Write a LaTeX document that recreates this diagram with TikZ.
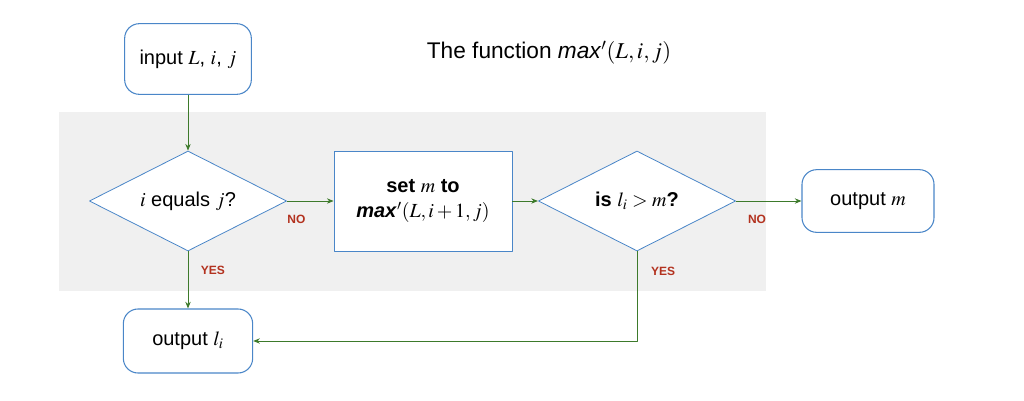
\documentclass[tikz,border=0pt]{standalone}
\usepackage{mathptmx}
\usepackage{fontspec}
\setmainfont{Liberation Sans}
\usetikzlibrary{shapes.geometric,arrows.meta}
\definecolor{boxblue}{HTML}{4A86C8}
\definecolor{flowgreen}{HTML}{3D7A2B}
\definecolor{answerred}{HTML}{B3321F}
\definecolor{panelgrey}{HTML}{F0F0F0}
\begin{document}
\begin{tikzpicture}[x=0.75pt,y=-0.75pt,line join=round,font=\fontsize{15}{19}\selectfont,>={Stealth[length=5pt,width=4pt]}]
	\tikzset{
		term/.style={draw=boxblue,line width=0.8pt,fill=white,rounded corners=11pt,align=center},
		test/.style={draw=boxblue,line width=0.6pt,fill=white,diamond,inner sep=0pt,minimum width=148pt,minimum height=75pt,aspect=2},
		proc/.style={draw=boxblue,line width=0.6pt,fill=white,minimum width=133.5pt,minimum height=75pt,align=center},
		flow/.style={draw=flowgreen,line width=0.6pt,->},
		answer/.style={text=answerred,font=\fontsize{9}{11}\selectfont\bfseries}
	}
	\useasboundingbox (0,0) rectangle (1024,400);
	\fill[panelgrey] (59,112) rectangle (766,291);
	% boxes
	\node[term,minimum width=95pt,minimum height=53pt] (input) at (188,59) {input $L$, $i$, $j$};
	\node[font=\fontsize{17}{20}\selectfont] (title) at (549,53) {The function \textit{max}$'(L,i,j)$};
	\node[test] (equals) at (188,201) {$i$ equals $j$?};
	\node[proc] (setm) at (423,201) {\textbf{set} $m$ \textbf{to}\\\textbf{\textit{max}}$'(L,i+1,j)$};
	\node[test] (bigger) at (637,201) {\textbf{is} $l_i>m$\textbf{?}};
	\node[term,minimum width=99pt,minimum height=47pt] (outm) at (868,201) {output $m$};
	\node[term,minimum width=97pt,minimum height=48pt] (outl) at (188,341) {output $l_i$};
	% arrows
	\draw[flow] (input) -- (equals);
	\draw[flow] (equals) -- node[answer,pos=0.2,yshift=-13.5pt]{NO} (setm);
	\draw[flow] (setm) -- (bigger);
	\draw[flow] (bigger) -- node[answer,pos=0.32,yshift=-13.5pt]{NO} (outm);
	\draw[flow] (equals) -- node[answer,pos=0.34,right=6pt]{YES} (outl);
	\draw[flow] (bigger.south) |- node[answer,pos=0.11,right=7pt]{YES} (outl.east);
\end{tikzpicture}
\end{document}
